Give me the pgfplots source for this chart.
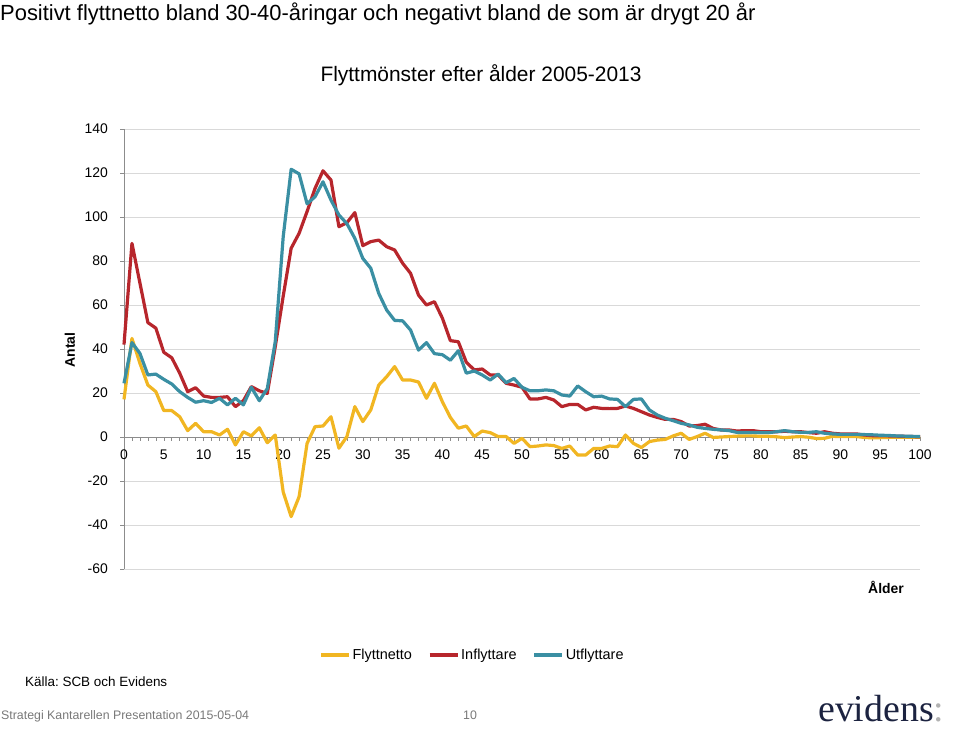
\documentclass[border=0pt]{standalone}
\usepackage{pgfplots}
\usepackage{pgfplotstable}
\pgfplotsset{compat=1.18}
\usepackage{fontspec}
\setmainfont{Liberation Sans}
\newfontfamily\seriffont{Liberation Serif}
\frenchspacing
\definecolor{cnet}{RGB}{241,182,34}
\definecolor{cin}{RGB}{183,38,44}
\definecolor{cout}{RGB}{58,143,163}
\definecolor{axgray}{RGB}{140,140,140}
\definecolor{gridgray}{RGB}{217,217,217}
\definecolor{foot}{RGB}{120,120,120}
\definecolor{navy}{RGB}{28,35,64}

\pgfplotstableread{
age net in out
0 17.1 42 24.4
1 44.8 88 42.9
2 33.5 70 38
3 23.6 52 28.2
4 20.6 49.5 28.6
5 12 38.5 26.2
6 12 36 24.1
7 9.2 29 20.6
8 2.9 20.6 18
9 6.2 22.4 15.8
10 2.4 18.6 16.5
11 2.4 18 15.7
12 0.9 18 17.6
13 3.5 18.3 14.6
14 -3.6 13.8 17.6
15 2.4 16.5 14.6
16 0.5 22.9 22.6
17 4.2 21 16.5
18 -2.6 19.8 22
19 0.9 41 43.3
20 -25 64 91
21 -36.2 85.8 121.7
22 -27.1 92.6 119.6
23 -2.9 102.5 106
24 4.7 113 109.2
25 5 121 116
26 9.2 116.8 107.7
27 -5.1 95.6 100.9
28 0.2 97.4 97
29 13.8 102 90.3
30 7 87 81.2
31 12.3 88.8 76.7
32 23.6 89.5 65.3
33 27.4 86.5 57.7
34 32 85 53
35 25.9 79 52.8
36 25.9 74.4 48.6
37 25 64.5 39.5
38 17.6 60 42.9
39 24.4 61.5 37.9
40 16 54 37.4
41 8.9 43.8 34.9
42 4 43.3 39.2
43 5 34 29
44 0.2 30.5 30
45 2.7 30.9 28.2
46 2 28.2 25.9
47 0.2 28.2 28.6
48 0.2 24.4 24.7
49 -2.9 23.6 26.6
50 -0.6 22.6 22.6
51 -4.4 17.3 21
52 -4.1 17.3 21
53 -3.6 18 21.4
54 -3.9 16.8 21
55 -5.2 13.8 19.1
56 -4.1 14.8 18.6
57 -8.2 14.8 23.2
58 -8.2 12.3 20.6
59 -5.2 13.5 18.3
60 -5.2 13 18.6
61 -4.1 12.9 17.3
62 -4.4 13 17.1
63 0.9 14.1 13.8
64 -2.9 13 17.1
65 -4.8 11.5 17.3
66 -2.1 10 12.3
67 -1.4 8.9 10
68 -1.1 8 8.5
69 0.5 8 7.4
70 1.7 7 6.2
71 -1.1 5 5.5
72 0.2 5.2 4.4
73 1.7 5.8 3.9
74 -0.2 3.9 3.5
75 0 3.2 3.2
76 0.2 3.2 2.9
77 0.4 2.7 2.1
78 0.5 2.9 2
79 0.5 2.9 2.1
80 0.3 2.4 2
81 0.3 2.4 2
82 0.1 2.4 2.4
83 -0.3 2.6 2.9
84 0 2.4 2.4
85 0.2 2.4 2.1
86 -0.1 2 2.1
87 -0.7 1.7 2.4
88 -0.6 2.4 1.7
89 0.3 1.7 1.4
90 0.2 1.4 1.2
91 0.2 1.4 1.2
92 0.2 1.4 1.2
93 -0.2 0.9 1.1
94 -0.4 0.6 1
95 -0.3 0.6 0.8
96 -0.2 0.5 0.7
97 -0.1 0.4 0.5
98 -0.1 0.3 0.4
99 -0.1 0.2 0.3
100 -0.1 0.1 0.2
}\datatable

\begin{document}
\begin{tikzpicture}
\path[use as bounding box] (0bp,0bp) rectangle (960bp,732bp);
\begin{axis}[
  at={(124bp,163bp)}, anchor=south west,
  scale only axis, width=796bp, height=440bp,
  xmin=0, xmax=100, ymin=-60, ymax=140,
  axis x line=middle, axis y line=left,
  axis line style={draw=axgray, line width=0.8bp, -},
  xtick={0,5,...,100}, minor x tick num=4,
  ytick={-60,-40,...,140},
  tick align=outside,
  major tick length=4bp, minor tick length=4bp,
  every tick/.style={draw=axgray, line width=0.6bp},
  ymajorgrids, major grid style={draw=gridgray, line width=0.8bp},
  hide obscured x ticks=false, hide obscured y ticks=false,
  tick label style={font=\fontsize{14}{16}\selectfont},
  xticklabel style={inner sep=0pt, yshift=-9bp},
  yticklabel style={inner sep=0pt, xshift=-12bp},
  /pgf/number format/assume math mode=true,
  scaled ticks=false,
  clip=false,
  legend style={at={(0.4378,-0.1955)}, anchor=center, draw=none, fill=none,
    font=\fontsize{14.5}{16}\selectfont,
    /tikz/every even column/.append style={column sep=14bp}},
  legend columns=3,
  legend image code/.code={\draw[#1, line width=3.2bp] (0bp,0bp) -- (28bp,0bp);},
]
\addplot[cnet, line width=3.2bp, line join=round, no markers] table[x=age, y=net] {\datatable};
\addlegendentry{Flyttnetto}
\addplot[cin, line width=3.2bp, line join=round, no markers] table[x=age, y=in] {\datatable};
\addlegendentry{Inflyttare}
\addplot[cout, line width=3.2bp, line join=round, no markers] table[x=age, y=out] {\datatable};
\addlegendentry{Utflyttare}
\end{axis}
\node[anchor=base west, inner sep=0pt] at (0bp,711bp) {\fontsize{22}{26}\selectfont Positivt flyttnetto bland 30-40-åringar och negativt bland de som är drygt 20 år};
\node[anchor=base, inner sep=0pt] at (481bp,650bp) {\fontsize{21}{24}\selectfont Flyttmönster efter ålder 2005-2013};
\node[rotate=90, inner sep=0pt] at (70bp,382bp) {\fontsize{14}{16}\selectfont\bfseries Antal};
\node[anchor=base, inner sep=0pt] at (886bp,138bp) {\fontsize{14}{16}\selectfont\bfseries Ålder};
\node[anchor=base west, inner sep=0pt] at (25bp,45bp) {\fontsize{13.5}{16}\selectfont Källa: SCB och Evidens};
\node[anchor=base west, inner sep=0pt, text=foot] at (1bp,13bp) {\fontsize{12.4}{15}\selectfont Strategi Kantarellen Presentation 2015-05-04};
\node[anchor=base, inner sep=0pt, text=foot] at (470bp,13bp) {\fontsize{12.4}{15}\selectfont 10};
\node[anchor=base west, inner sep=0pt, text=navy] at (818bp,11bp) {\fontsize{38}{40}\selectfont\seriffont evidens\textcolor{gray!60}{:}};
\end{tikzpicture}
\end{document}
